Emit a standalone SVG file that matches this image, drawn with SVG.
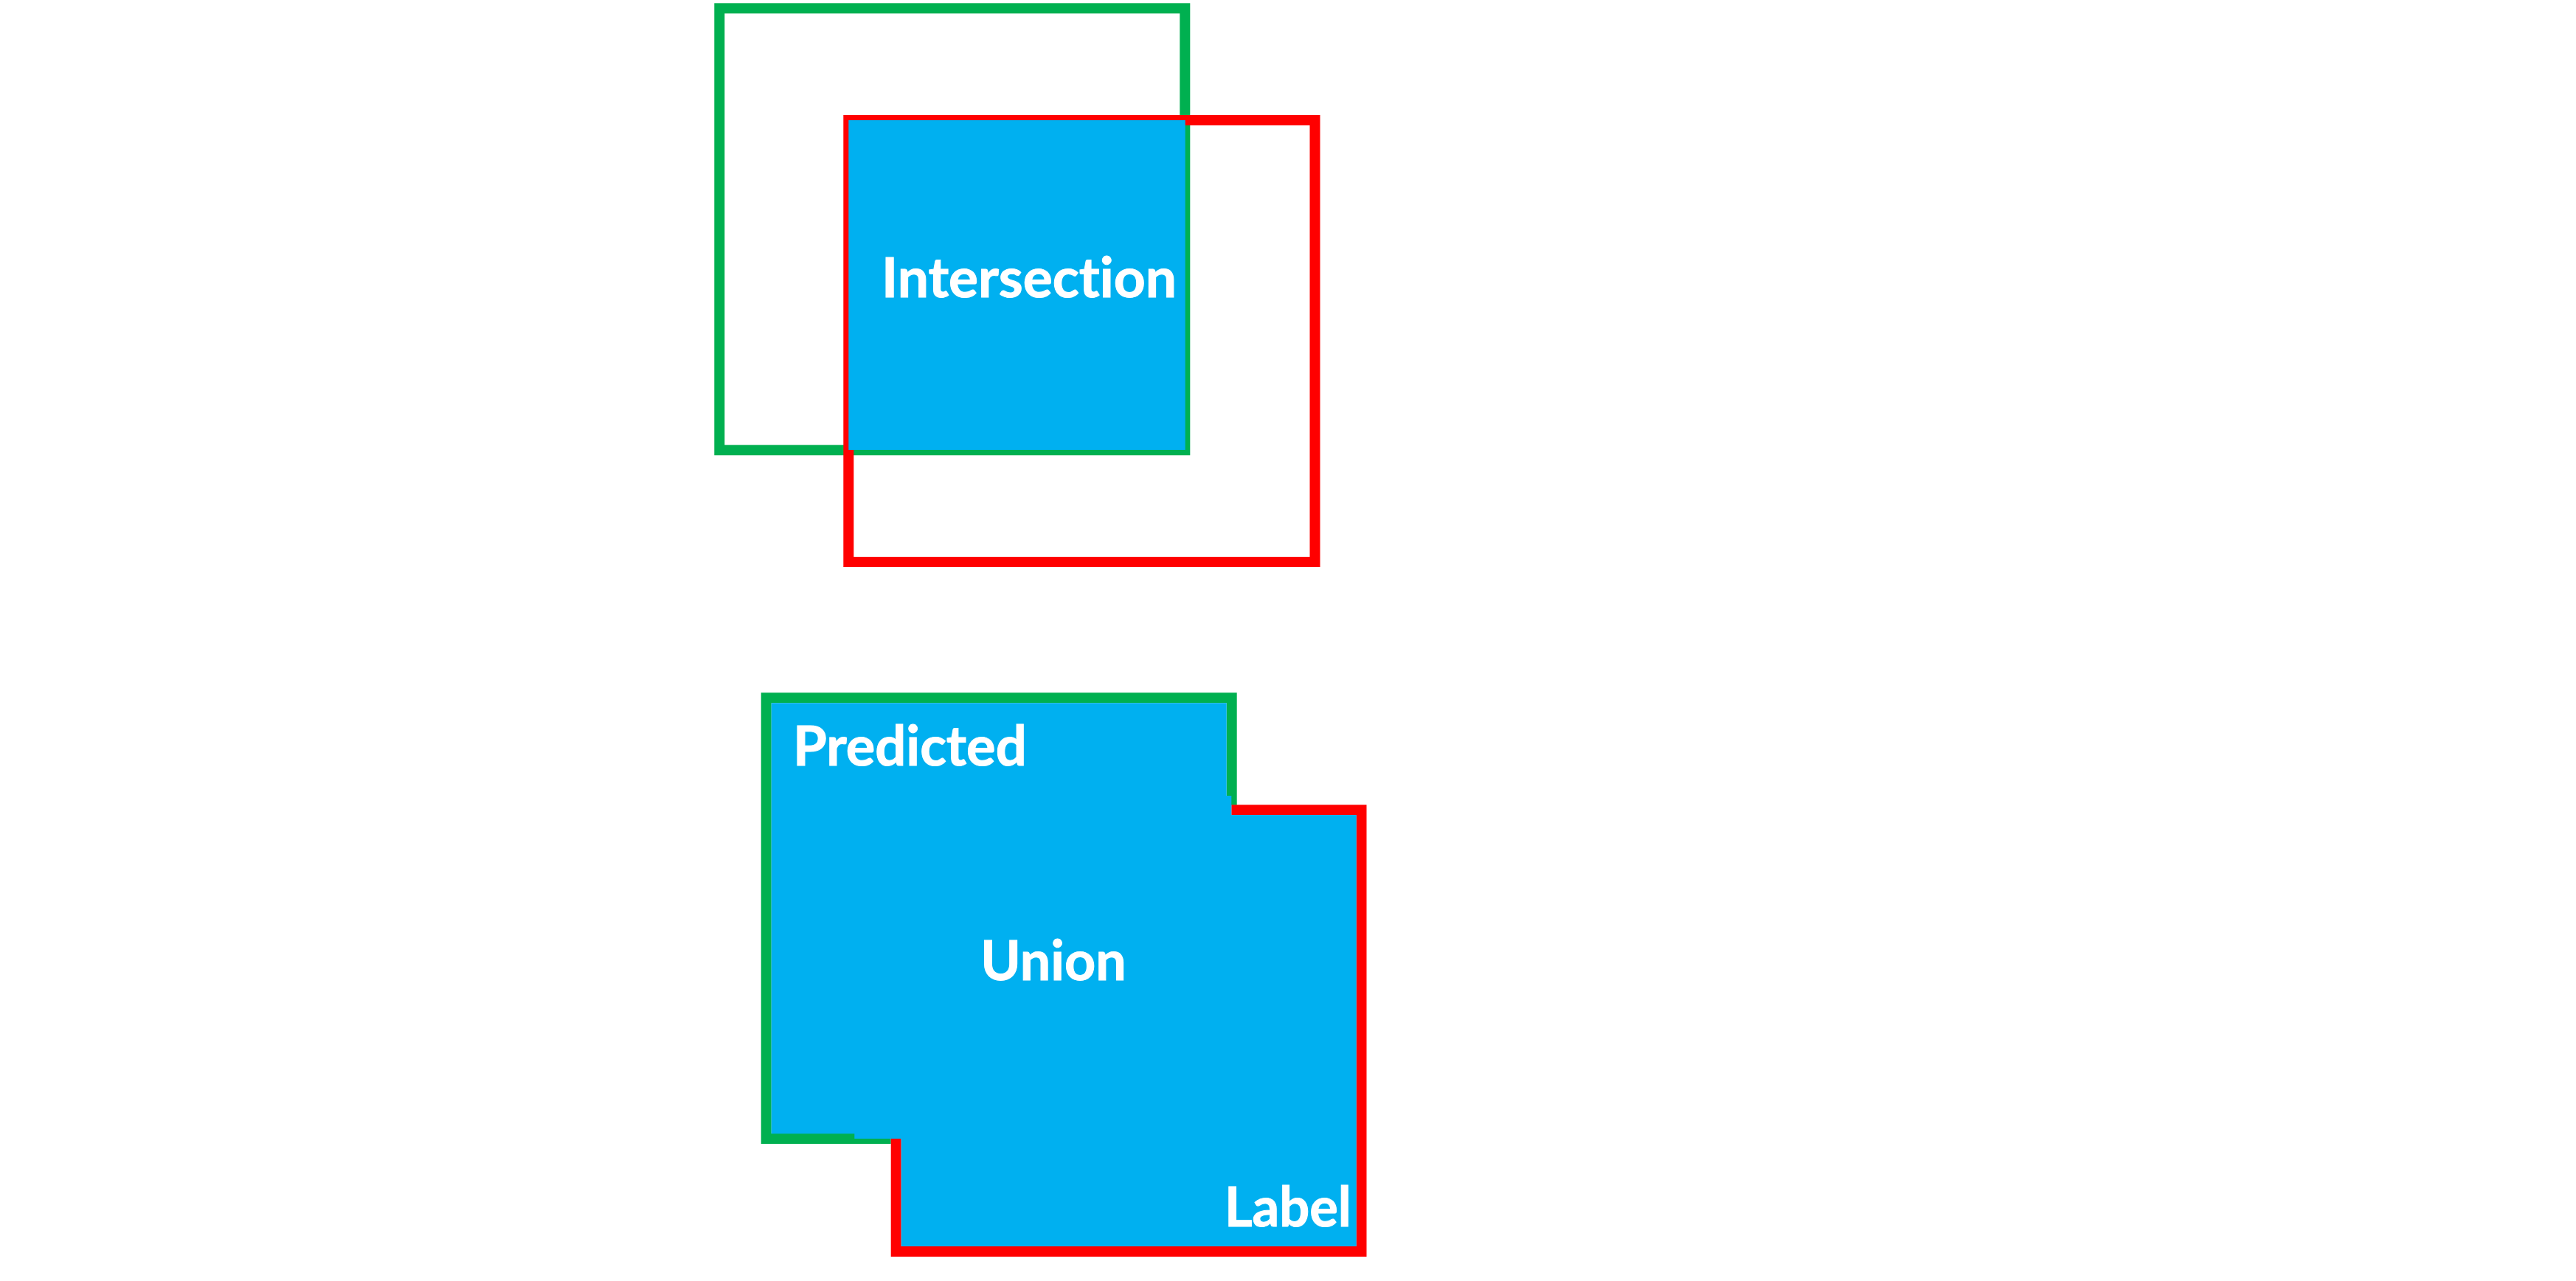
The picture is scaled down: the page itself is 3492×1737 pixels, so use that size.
<svg xmlns="http://www.w3.org/2000/svg" width="3492" height="1737" viewBox="0 0 3492 1737">
<style>
.g{fill:none;stroke:#00B050;stroke-width:14;stroke-linejoin:miter;stroke-linecap:butt}
.r{fill:none;stroke:#FF0000;stroke-width:14;stroke-linejoin:miter;stroke-linecap:butt}
.b{fill:#00B0F0;stroke:none}
.t{fill:#FFFFFF;font-family:Lato,"Open Sans","Liberation Sans",sans-serif;font-weight:bold;font-size:74px;font-variant-ligatures:none;stroke:#FFFFFF;stroke-width:1}
</style>
<rect width="3492" height="1737" fill="#FFFFFF"/>
<g id="intersection-diagram">
  <rect id="predicted-top" class="g" x="975.3" y="11.3" width="631" height="599"/>
  <rect id="label-top" class="r" x="1150.3" y="163" width="632.2" height="599"/>
  <g id="intersection">
    <rect class="b" x="1150.3" y="163" width="456.4" height="447"/>
    <text class="t" x="1195" y="403.3" textLength="400" lengthAdjust="spacingAndGlyphs">Intersection</text>
  </g>
</g>
<g id="union-diagram">
  <path id="predicted-bottom" class="g" d="M1669.7,1091.7 V946.3 H1038.7 V1544 H1207.7"/>
  <path id="label-bottom" class="r" d="M1669.3,1098.3 H1845.5 V1697 H1214.7 V1544"/>
  <g id="union">
    <polygon class="b" points="1045.7,953.3 1662.7,953.3 1662.7,1079 1669.3,1079 1669.3,1105 1838.7,1105 1838.7,1690 1221.7,1690 1221.7,1544 1158.3,1544 1158.3,1537.3 1045.7,1537.3"/>
    <text class="t" x="1329.3" y="1329.3" textLength="197.4" lengthAdjust="spacingAndGlyphs">Union</text>
  </g>
  <text id="predicted-text" class="t" x="1075" y="1038.3" textLength="316.7" lengthAdjust="spacingAndGlyphs">Predicted</text>
  <text id="label-text" class="t" x="1660" y="1662.7" textLength="171.7" lengthAdjust="spacingAndGlyphs">Label</text>
</g>
</svg>
